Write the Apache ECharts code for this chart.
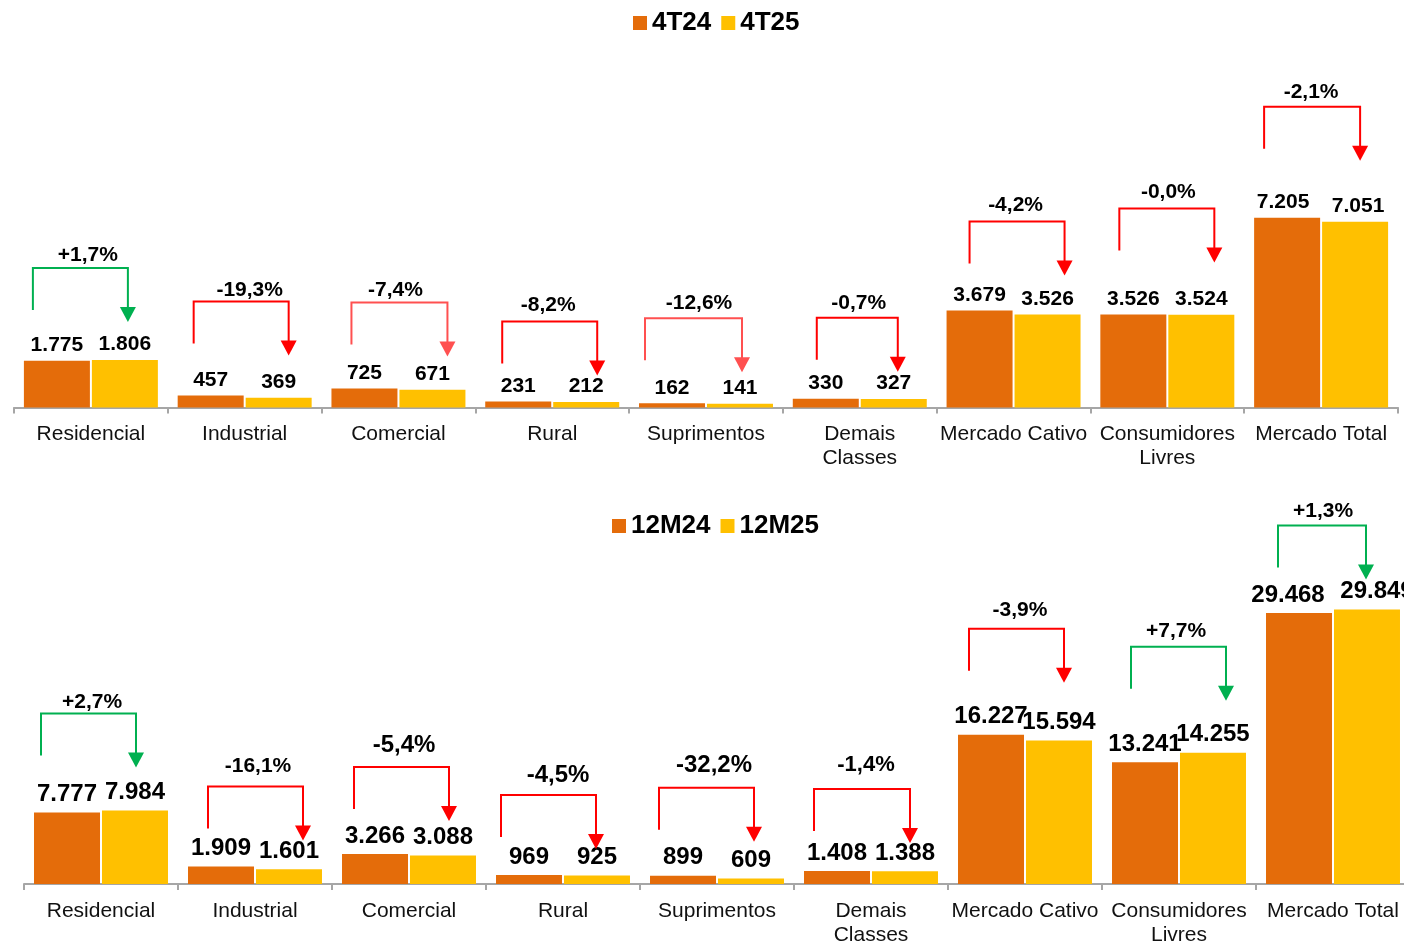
<!DOCTYPE html>
<html>
<head>
<meta charset="utf-8">
<script src="https://cdn.jsdelivr.net/npm/echarts@6/dist/echarts.min.js"></script>
<style>
  html, body { margin: 0; padding: 0; background: #fff; }
  #chart { width: 1404px; height: 943px; }
</style>
</head>
<body>
<div id="chart"></div>
<script>
// Energy market by consumer class (GWh): quarter and trailing 12 months
const categories = ['Residencial', 'Industrial', 'Comercial', 'Rural', 'Suprimentos',
  'Demais\nClasses', 'Mercado Cativo', 'Consumidores\nLivres', 'Mercado Total'];

const quarterNames = ['4T24', '4T25'];
const quarterPrev = [1775, 457, 725, 231, 162, 330, 3679, 3526, 7205];
const quarterCurr = [1806, 369, 671, 212, 141, 327, 3526, 3524, 7051];
const quarterChange = ['+1,7%', '-19,3%', '-7,4%', '-8,2%', '-12,6%', '-0,7%', '-4,2%', '-0,0%', '-2,1%'];

const yearNames = ['12M24', '12M25'];
const yearPrev = [7777, 1909, 3266, 969, 899, 1408, 16227, 13241, 29468];
const yearCurr = [7984, 1601, 3088, 925, 609, 1388, 15594, 14255, 29849];
const yearChange = ['+2,7%', '-16,1%', '-5,4%', '-4,5%', '-32,2%', '-1,4%', '-3,9%', '+7,7%', '+1,3%'];

// Horizontal nudges of value labels that would otherwise collide (pixels)
const quarterPrevLabelDx = [0, 0, 0, 0, 0, 0, 0, 0, -4];
const quarterCurrLabelDx = [0, 0, 0, 0, 0, 0, 0, 0, 3];
const yearPrevLabelDx = [0, 0, 0, 0, 0, 0, 0, 0, -11];
const yearCurrLabelDx = [0, 0, 0, 0, 0, 0, 0, 0, 10];

// Placement of the change brackets (pixels, relative to the category centre / taller bar)
const GREEN = '#00B050', RED = '#FF0000', SOFT_RED = '#FF5050';
const quarterBrackets = {
  lift:      [92, 94, 86, 80, 85, 81, 89, 106, 111],
  armL:      [-58, -51, -47, -50, -61, -43, -44, -48, -57],
  armR:      [37, 44, 49, 45, 36, 38, 51, 47, 39],
  textDx:    [-3, 5, -3, -4, -7, -1, 2, 1, -10],
  textRise:  [13, 11, 12, 16, 15, 15, 16, 16, 14],
  textSize:  [21, 21, 21, 21, 21, 21, 21, 21, 21],
  color:     [GREEN, RED, SOFT_RED, RED, SOFT_RED, RED, RED, RED, RED]
};
const yearBrackets = {
  lift:      [97, 80, 87, 80, 88, 82, 106, 106, 84],
  armL:      [-60, -47, -55, -62, -58, -57, -56, -48, -55],
  armR:      [35, 48, 40, 33, 37, 39, 39, 47, 33],
  textDx:    [-9, 3, -5, -5, -3, -5, -5, -3, -10],
  textRise:  [11, 20, 22, 20, 22, 24, 19, 16, 14],
  textSize:  [21, 21, 24, 24, 24, 22, 21, 21, 21],
  color:     [GREEN, RED, RED, RED, RED, RED, RED, GREEN, GREEN]
};

const FONT = '"Liberation Sans", Arial, sans-serif';
const ORANGE = '#E46C0A', YELLOW = '#FFC000';

function fmtThousands(v) {
  return String(v).replace(/\B(?=(\d{3})+(?!\d))/g, '.');
}

function barSeries(gridIdx, name, values, labelDx, color, fontSize, dist) {
  return {
    type: 'bar', name: name, xAxisIndex: gridIdx, yAxisIndex: gridIdx,
    data: values.map((v, i) => labelDx[i]
      ? { value: v, label: { offset: [labelDx[i], 0] } }
      : v),
    barWidth: 66, barGap: '3%',
    itemStyle: { color: color },
    label: {
      show: true, position: 'top', distance: dist,
      formatter: p => fmtThousands(p.value),
      fontSize: fontSize, fontWeight: 'bold', color: '#000', fontFamily: FONT
    }
  };
}

function bracketSeries(gridIdx, prev, curr, labels, lay) {
  return {
    type: 'custom', xAxisIndex: gridIdx, yAxisIndex: gridIdx,
    clip: false, silent: true, z: 5,
    data: prev.map((v, i) => [i, Math.max(v, curr[i])]),
    renderItem(params, api) {
      const i = api.value(0);
      const pt = api.coord([i, api.value(1)]);
      const cx = pt[0];
      const y = pt[1] - lay.lift[i];
      const xl = cx + lay.armL[i];
      const xr = cx + lay.armR[i];
      const col = lay.color[i];
      return {
        type: 'group',
        children: [
          {
            type: 'polyline',
            shape: { points: [[xl, y + 42], [xl, y], [xr, y], [xr, y + 41]] },
            style: { stroke: col, lineWidth: 2, fill: null }
          },
          {
            type: 'polygon',
            shape: { points: [[xr - 8, y + 39], [xr + 8, y + 39], [xr, y + 54]] },
            style: { fill: col }
          },
          {
            type: 'text',
            x: cx + lay.textDx[i], y: y - lay.textRise[i],
            style: {
              text: labels[i], fill: '#000',
              fontSize: lay.textSize[i], fontWeight: 'bold', fontFamily: FONT,
              align: 'center', verticalAlign: 'middle'
            }
          }
        ]
      };
    }
  };
}

function categoryAxis(gridIdx) {
  return {
    type: 'category', gridIndex: gridIdx, data: categories,
    axisLine: { lineStyle: { color: '#a6a6a6', width: 2 } },
    axisTick: { show: true, length: 6, lineStyle: { color: '#a6a6a6', width: 2 } },
    axisLabel: { interval: 0, margin: 15, fontSize: 21, lineHeight: 24, color: '#111', fontFamily: FONT }
  };
}

function legend(names, left, top) {
  return {
    data: names, left: left, top: top, orient: 'horizontal', padding: 0,
    icon: 'rect', itemWidth: 14, itemHeight: 14, itemGap: 10,
    selectedMode: false,
    textStyle: { fontSize: 26, fontWeight: 'bold', color: '#000', fontFamily: FONT }
  };
}

const chart = echarts.init(document.getElementById('chart'), null, { renderer: 'canvas' });
chart.setOption({
  animation: false,
  backgroundColor: '#fff',
  legend: [legend(quarterNames, 633, 10), legend(yearNames, 612, 513)],
  grid: [
    { left: 14, top: 144, width: 1384, height: 263.5, outerBoundsMode: 'none', containLabel: false },
    { left: 24, top: 516, width: 1386, height: 368, outerBoundsMode: 'none', containLabel: false }
  ],
  xAxis: [categoryAxis(0), categoryAxis(1)],
  yAxis: [
    { type: 'value', gridIndex: 0, min: 0, max: 10000, show: false },
    { type: 'value', gridIndex: 1, min: 0, max: 40000, show: false }
  ],
  series: [
    barSeries(0, quarterNames[0], quarterPrev, quarterPrevLabelDx, ORANGE, 21, 5),
    barSeries(0, quarterNames[1], quarterCurr, quarterCurrLabelDx, YELLOW, 21, 5),
    bracketSeries(0, quarterPrev, quarterCurr, quarterChange, quarterBrackets),
    barSeries(1, yearNames[0], yearPrev, yearPrevLabelDx, ORANGE, 24, 6),
    barSeries(1, yearNames[1], yearCurr, yearCurrLabelDx, YELLOW, 24, 6),
    bracketSeries(1, yearPrev, yearCurr, yearChange, yearBrackets)
  ]
});
</script>
</body>
</html>
